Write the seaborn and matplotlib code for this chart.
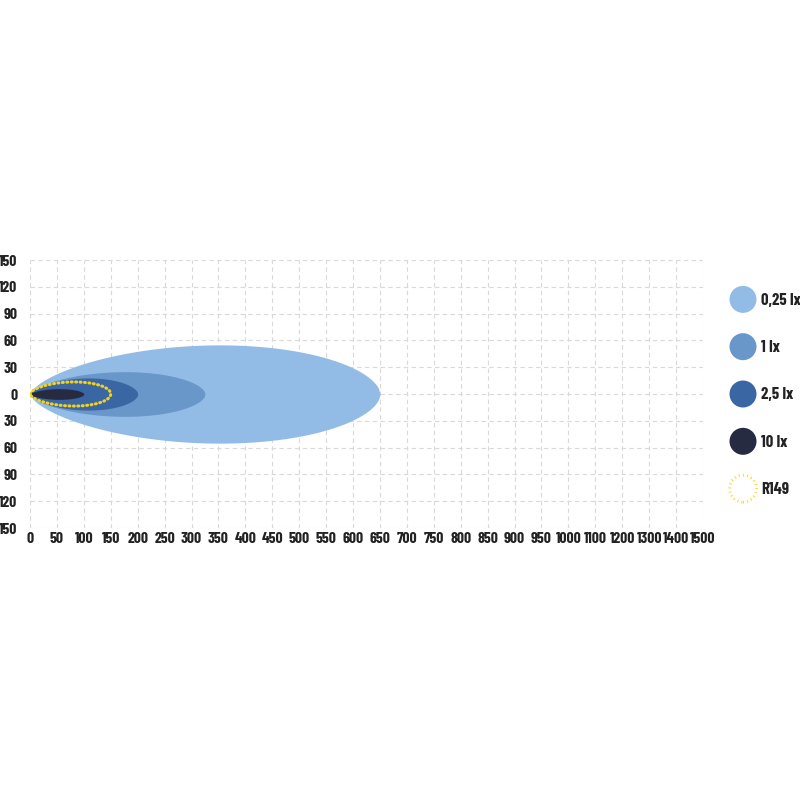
import numpy as np
import matplotlib
matplotlib.use("Agg")
import matplotlib.pyplot as plt
import matplotlib.patches as mpatches
from matplotlib import font_manager as fm
from matplotlib.legend_handler import HandlerPatch
import seaborn as sns

# isolux zones: reach (m) and half width (m)
labels = ["0,25 lx", "1 lx", "2,5 lx", "10 lx"]
reach = [650, 325, 200, 100]
half_width = [55, 25, 18, 6]
colors = ["#92BCE5", "#6A97C9", "#3B66A4", "#262B42"]

r149_reach = 150
r149_half_width = 13.5
r149_color = "#F2D21B"

xtick_labels = ["0", "50", "100", "150", "200", "250", "300", "350", "400", "450",
                "500", "550", "600", "650", "700", "750", "800", "850", "900", "950",
                "1000", "1100", "1200", "1300", "1400", "1500"]
ytick_vals = [-150, -120, -90, -60, -30, 0, 30, 60, 90, 120, 150]

sns.set_theme(style="white")

# pick a condensed family that has a bold face, if one is around
bold_fams = {f.name for f in fm.fontManager.ttflist
             if isinstance(f.weight, int) and f.weight >= 600 or f.weight == 'bold'}
cands = ['Barlow Condensed', 'Roboto Condensed', 'Fjalla One', 'Archivo Narrow',
         'PT Sans Narrow', 'Oswald']
fam = next((c for c in cands if c in bold_fams), 'Oswald')
plt.rcParams['font.family'] = [fam, 'DejaVu Sans']


def outline(L, H, n=300, a=0.65, b=0.55):
    t = np.linspace(0, 1, n)
    f = t ** a * (1 - t) ** b
    f = f / f.max()
    return t * L, H * f


fig = plt.figure(figsize=(8, 8), dpi=100)
ax = fig.add_axes([30 / 800, 272 / 800, 673 / 800, 268 / 800])

for lab, L, H, c in zip(labels, reach, half_width, colors):
    x, y = outline(L, H)
    ax.fill_between(x, -y, y, color=c, lw=0, zorder=2)

x, y = outline(r149_reach, r149_half_width, a=0.6, b=0.5)
xs = np.concatenate([x, x[::-1]])
ys = np.concatenate([y, -y[::-1]])
ax.plot(xs, ys, color=r149_color, lw=2.2, ls=(0, (0.3, 1.15)),
        dash_capstyle='round', zorder=3)

ax.set_xlim(0, 50 * (len(xtick_labels) - 1))
ax.set_ylim(-150, 150)
ax.set_xticks(np.arange(len(xtick_labels)) * 50)
ax.set_xticklabels(xtick_labels, fontsize=11.3, fontweight='bold', color='#222222')
ax.set_yticks(ytick_vals)
ax.set_yticklabels([str(abs(v)) for v in ytick_vals],
                   fontsize=11.3, fontweight='bold', color='#222222')
ax.tick_params(axis='x', length=0, pad=3)
ax.tick_params(axis='y', length=0, pad=9)
ax.grid(True, color='#d9d9d9', lw=0.8, ls=(0, (4, 3)))
ax.set_axisbelow(True)
for s in ax.spines.values():
    s.set_visible(False)


def make_circle(legend, orig_handle, xdescent, ydescent, width, height, fontsize):
    r = min(width, height) / 2
    return mpatches.Circle((width / 2 - xdescent, height / 2 - ydescent), r)


handles = [mpatches.Circle((0, 0), 1, facecolor=c, edgecolor='none') for c in colors]
handles.append(mpatches.Circle((0, 0), 1, facecolor='none', edgecolor=r149_color,
                               lw=2, ls=(0, (0.3, 1.2)), capstyle='round'))
leg = fig.legend(handles, labels + ["R149"], loc='center left',
                 bbox_to_anchor=(729.5 / 800, (800 - 394) / 800),
                 frameon=False, prop={'weight': 'bold', 'size': 12},
                 handleheight=2.16, handlelength=1.62, handletextpad=0.28,
                 labelspacing=1.19, borderpad=0, borderaxespad=0,
                 handler_map={mpatches.Circle: HandlerPatch(patch_func=make_circle)})
for t in leg.get_texts():
    t.set_color('#222222')

fig.savefig("out.png", dpi=100, facecolor='white')
